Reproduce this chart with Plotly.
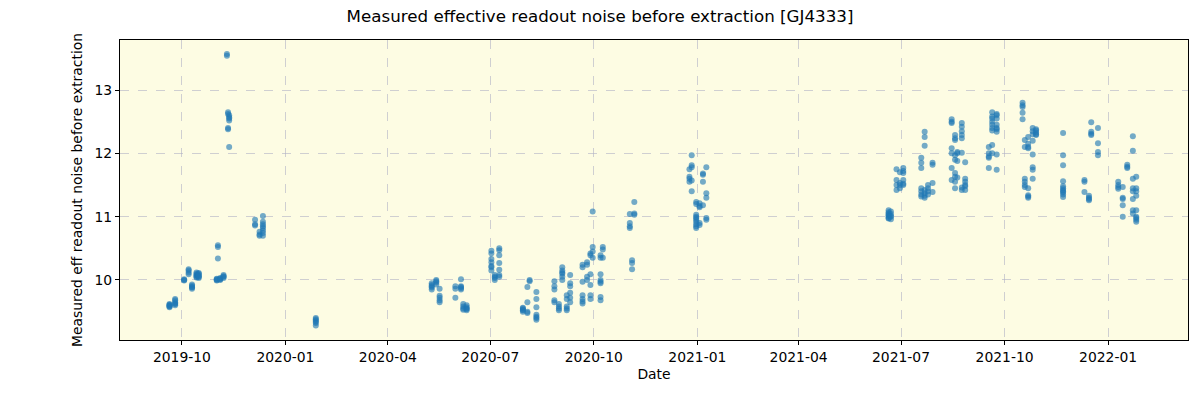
import plotly.graph_objects as go

# Observation nights and the measured effective readout noise values per night
night_dates = [
    "2019-09-20", "2019-09-25", "2019-10-03", "2019-10-07", "2019-10-10", "2019-10-14",
    "2019-10-16", "2019-11-01", "2019-11-02", "2019-11-04", "2019-11-07", "2019-11-10",
    "2019-11-11", "2019-11-12", "2019-12-05", "2019-12-09", "2019-12-12", "2020-01-28",
    "2020-05-10", "2020-05-14", "2020-05-17", "2020-05-31", "2020-06-05", "2020-06-07",
    "2020-06-10", "2020-07-02", "2020-07-05", "2020-07-09", "2020-07-30", "2020-08-03",
    "2020-08-05", "2020-08-11", "2020-08-27", "2020-08-31", "2020-09-03", "2020-09-07",
    "2020-09-10", "2020-09-21", "2020-09-25", "2020-09-28", "2020-09-30", "2020-10-07",
    "2020-10-09", "2020-11-02", "2020-11-04", "2020-11-06", "2020-12-25", "2020-12-27",
    "2020-12-31", "2021-01-03", "2021-01-06", "2021-01-09", "2021-06-20", "2021-06-22",
    "2021-06-27", "2021-06-30", "2021-07-03", "2021-07-19", "2021-07-22", "2021-07-25",
    "2021-07-29", "2021-08-15", "2021-08-18", "2021-08-20", "2021-08-24", "2021-08-27",
    "2021-09-17", "2021-09-20", "2021-09-24", "2021-10-17", "2021-10-19", "2021-10-22",
    "2021-10-26", "2021-10-29", "2021-11-22", "2021-12-11", "2021-12-15", "2021-12-17",
    "2021-12-23", "2022-01-10", "2022-01-14", "2022-01-18", "2022-01-23", "2022-01-26",
]

night_values = [
    [9.57, 9.59, 9.60, 9.62, 9.61, 9.58],
    [9.62, 9.65, 9.68, 9.70, 9.63, 9.60],
    [9.99, 10.01, 10.0],
    [10.17, 10.15, 10.12, 10.09],
    [9.86, 9.88, 9.91, 9.93, 9.89],
    [10.05, 10.08, 10.1, 10.12, 10.04, 10.07],
    [10.03, 10.06, 10.1, 10.11, 10.08, 10.05],
    [10.0, 10.01, 10.02, 9.99],
    [10.55, 10.52, 10.34],
    [10.0, 10.02, 10.03, 10.01],
    [10.03, 10.05, 10.06, 10.08],
    [13.57, 13.54],
    [12.65, 12.62, 12.40, 12.38],
    [12.6, 12.57, 12.55, 12.52, 12.1],
    [10.95, 10.86, 10.88],
    [10.72, 10.70, 10.76],
    [11.01, 10.92, 10.88, 10.85, 10.82, 10.78, 10.74, 10.7],
    [9.40, 9.38, 9.36, 9.34, 9.32, 9.28],
    [9.85, 9.88, 9.92, 9.95, 9.90],
    [9.98, 10.0, 9.96, 9.93],
    [9.86, 9.75, 9.72, 9.68, 9.65],
    [9.86, 9.9, 9.72],
    [10.01, 9.89, 9.87, 9.9, 9.85],
    [9.62, 9.58, 9.55, 9.53],
    [9.6, 9.57, 9.55, 9.52, 9.54],
    [10.46, 10.42, 10.33, 10.28, 10.2, 10.15, 10.22],
    [10.05, 10.0, 10.03, 10.08],
    [10.5, 10.47, 10.39, 10.27, 10.16, 10.05, 10.08],
    [9.55, 9.53, 9.52, 9.5, 9.56],
    [9.89, 9.65, 9.5, 9.48],
    [10.0, 9.98],
    [9.81, 9.7, 9.57, 9.45, 9.4, 9.37, 9.42],
    [9.65, 9.68, 9.85, 9.9, 9.98],
    [9.52, 9.55, 9.58, 9.62],
    [10.2, 10.15, 10.1, 10.05, 10.0, 10.12],
    [9.76, 9.7, 9.55, 9.52, 9.58],
    [10.08, 9.95, 9.9, 9.8, 9.72, 9.65],
    [10.24, 10.2, 9.97, 9.76, 9.7, 9.63, 9.66],
    [10.28, 10.0, 10.05, 10.24],
    [10.39, 10.42, 9.92, 9.76, 9.7, 10.09],
    [10.52, 10.45, 11.08, 10.35],
    [10.0, 9.95, 9.97, 10.09, 9.73, 9.68, 10.39, 10.35],
    [10.52, 10.48, 10.35],
    [11.04, 10.9, 10.85, 10.82],
    [10.31, 10.27, 10.17],
    [11.23, 11.05, 11.03],
    [11.75, 11.6, 11.55, 11.63],
    [11.97, 11.81, 11.78, 11.4, 11.57],
    [11.23, 11.2, 11.03, 10.98, 10.92, 10.88, 10.85, 10.82, 11.0, 10.95],
    [11.21, 11.17, 11.15, 10.9, 10.87],
    [11.66, 11.68, 11.55, 11.18],
    [11.78, 11.37, 11.3, 10.98, 10.95],
    [11.1, 11.07, 11.05, 11.03, 11.0, 10.98, 10.97, 11.02],
    [11.08, 11.04, 11.0, 10.96, 11.01],
    [11.75, 11.58, 11.42, 11.5],
    [11.53, 11.45, 11.7, 11.5],
    [11.77, 11.69, 11.72, 11.58, 11.52, 11.5],
    [11.93, 11.85, 11.77, 11.45, 11.4, 11.35, 11.32],
    [12.34, 12.26, 12.12, 11.42, 11.37, 11.33, 11.3],
    [11.45, 11.4, 11.35, 11.5],
    [11.85, 11.82, 11.53, 11.39],
    [12.54, 12.5, 12.48, 12.08, 12.0, 11.77, 11.58],
    [12.29, 12.24, 12.21, 11.97, 11.9, 11.69, 11.63, 11.55, 11.45],
    [12.0, 12.02, 11.88, 11.62],
    [12.48, 12.42, 12.35, 12.29, 12.24, 12.01, 11.42, 11.46],
    [11.86, 11.6, 11.55, 11.5, 11.48, 11.42],
    [12.0, 11.95, 11.93, 11.77, 12.1],
    [12.65, 12.58, 12.55, 12.5, 12.45, 12.4, 12.36, 12.13, 12.0],
    [12.62, 12.6, 12.55, 12.45, 12.4, 12.38, 12.34, 11.98, 11.74],
    [12.8, 12.76, 12.73, 12.64, 12.54],
    [12.21, 12.1, 11.6, 11.55, 11.5, 11.47],
    [12.26, 12.15, 12.1, 12.08, 11.45, 11.34, 11.3, 11.32],
    [12.4, 12.35, 12.3, 12.2, 11.98, 11.78, 11.74, 11.6],
    [12.38, 12.33, 12.29, 12.3, 12.36],
    [12.32, 11.97, 11.81, 11.56, 11.48, 11.45, 11.42, 11.4, 11.38, 11.35, 11.31],
    [11.58, 11.55, 11.39],
    [11.33, 11.3, 11.28, 11.26],
    [12.49, 12.34, 12.31, 12.29],
    [12.4, 12.16, 12.02, 11.97],
    [11.55, 11.5, 11.44, 11.47],
    [11.3, 11.28, 11.18, 11.0, 11.47],
    [11.82, 11.79, 11.77],
    [12.27, 12.04, 11.6, 11.45, 11.4, 11.1, 11.05, 11.28],
    [11.63, 11.45, 11.4, 11.33, 11.1, 10.98, 10.95, 10.92, 11.0],
]

x_tick_start = "2019-10-01"
title_text = "Measured effective readout noise before extraction [GJ4333]"
x_label = "Date"
y_label = "Measured eff readout noise before extraction"

xs, ys = [], []
for d, vals in zip(night_dates, night_values):
    for v in vals:
        xs.append(d)
        ys.append(v)

fig = go.Figure()
fig.add_trace(go.Scatter(
    x=xs, y=ys, mode="markers",
    marker=dict(color="#1f77b4", size=6, opacity=0.62, line=dict(width=0)),
    showlegend=False, hoverinfo="skip",
))

font_family = "DejaVu Sans, sans-serif"
grid_color = "rgba(176,176,196,0.6)"

fig.update_layout(
    width=1200, height=400,
    margin=dict(l=120, r=12, t=40, b=60, autoexpand=False),
    paper_bgcolor="white",
    plot_bgcolor="#fdfce3",
    font=dict(family=font_family, size=13.9, color="black"),
    title=dict(text=title_text, x=0.5, xanchor="center", y=0.96, yanchor="middle",
               font=dict(size=16.7, family=font_family)),
)
fig.update_xaxes(
    type="date",
    range=["2019-08-07", "2022-03-13"],
    tick0=x_tick_start, dtick="M3", tickformat="%Y-%m",
    tickfont=dict(size=13.9),
    showgrid=True, gridcolor=grid_color, griddash="dash", gridwidth=1,
    showline=True, linecolor="black", linewidth=1, mirror=True,
    ticks="outside", ticklen=4, tickcolor="black",
    title=dict(text=x_label, font=dict(size=13.9), standoff=5),
    zeroline=False, automargin=False,
)
fig.update_yaxes(
    range=[9.052, 13.79],
    tickvals=[10, 11, 12, 13],
    tickfont=dict(size=13.9),
    showgrid=True, gridcolor=grid_color, griddash="dash", gridwidth=1,
    showline=True, linecolor="black", linewidth=1, mirror=True,
    ticks="outside", ticklen=4, tickcolor="black",
    title=dict(text=y_label, font=dict(size=13.9), standoff=8),
    zeroline=False, automargin=False,
)

fig.write_html("out.html", config={"displayModeBar": False},
               post_script="document.body.style.margin='0';")
